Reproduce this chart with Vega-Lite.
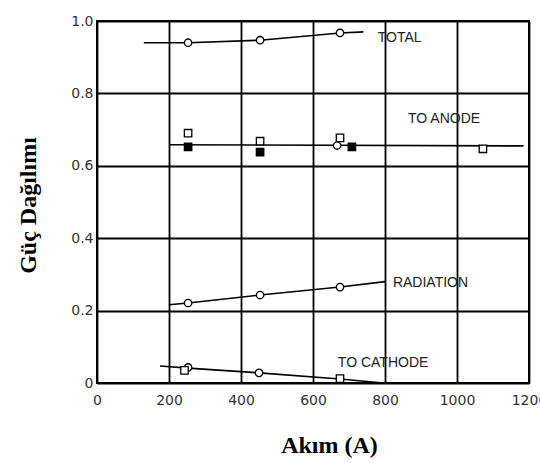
{
  "$schema": "https://vega.github.io/schema/vega-lite/v6.json",
  "width": 432,
  "height": 362,
  "autosize": "none",
  "padding": {"left": 97, "top": 21, "right": 11, "bottom": 80},
  "background": "white",
  "config": {
    "view": {"stroke": "black", "strokeWidth": 2},
    "axis": {
      "grid": true, "gridColor": "black", "gridOpacity": 1, "gridWidth": 1.8,
      "domain": false, "ticks": false,
      "labelFont": "DejaVu Sans", "labelFontSize": 14, "labelColor": "#333",
      "titleFont": "Liberation Serif", "titleFontSize": 24, "titleFontWeight": "bold", "titleColor": "black"
    }
  },
  "datasets": {
    "lines": [
      {"series": "TOTAL", "x": 130, "y": 0.94},
      {"series": "TOTAL", "x": 253, "y": 0.94},
      {"series": "TOTAL", "x": 453, "y": 0.947},
      {"series": "TOTAL", "x": 675, "y": 0.967},
      {"series": "TOTAL", "x": 740, "y": 0.97},
      {"series": "TO ANODE", "x": 200, "y": 0.658},
      {"series": "TO ANODE", "x": 1185, "y": 0.655},
      {"series": "RADIATION", "x": 200, "y": 0.216},
      {"series": "RADIATION", "x": 253, "y": 0.221},
      {"series": "RADIATION", "x": 453, "y": 0.243},
      {"series": "RADIATION", "x": 675, "y": 0.265},
      {"series": "RADIATION", "x": 800, "y": 0.28},
      {"series": "TO CATHODE", "x": 175, "y": 0.047},
      {"series": "TO CATHODE", "x": 253, "y": 0.041},
      {"series": "TO CATHODE", "x": 450, "y": 0.028},
      {"series": "TO CATHODE", "x": 675, "y": 0.011},
      {"series": "TO CATHODE", "x": 795, "y": 0.0}
    ],
    "points": [
      {"series": "TOTAL", "x": 253, "y": 0.94, "shape": "circle", "marker": "open"},
      {"series": "TOTAL", "x": 453, "y": 0.947, "shape": "circle", "marker": "open"},
      {"series": "TOTAL", "x": 675, "y": 0.967, "shape": "circle", "marker": "open"},
      {"series": "TO ANODE", "x": 253, "y": 0.69, "shape": "square", "marker": "open"},
      {"series": "TO ANODE", "x": 453, "y": 0.668, "shape": "square", "marker": "open"},
      {"series": "TO ANODE", "x": 675, "y": 0.677, "shape": "square", "marker": "open"},
      {"series": "TO ANODE", "x": 1072, "y": 0.647, "shape": "square", "marker": "open"},
      {"series": "TO ANODE", "x": 667, "y": 0.656, "shape": "circle", "marker": "open"},
      {"series": "TO ANODE", "x": 253, "y": 0.652, "shape": "square", "marker": "filled"},
      {"series": "TO ANODE", "x": 453, "y": 0.638, "shape": "square", "marker": "filled"},
      {"series": "TO ANODE", "x": 708, "y": 0.652, "shape": "square", "marker": "filled"},
      {"series": "RADIATION", "x": 253, "y": 0.221, "shape": "circle", "marker": "open"},
      {"series": "RADIATION", "x": 453, "y": 0.243, "shape": "circle", "marker": "open"},
      {"series": "RADIATION", "x": 675, "y": 0.265, "shape": "circle", "marker": "open"},
      {"series": "TO CATHODE", "x": 253, "y": 0.043, "shape": "circle", "marker": "open"},
      {"series": "TO CATHODE", "x": 243, "y": 0.035, "shape": "square", "marker": "open"},
      {"series": "TO CATHODE", "x": 450, "y": 0.028, "shape": "circle", "marker": "open"},
      {"series": "TO CATHODE", "x": 675, "y": 0.012, "shape": "square", "marker": "open"}
    ],
    "labels": [
      {"label": "TOTAL", "x": 780, "y": 0.953},
      {"label": "TO ANODE", "x": 864, "y": 0.73},
      {"label": "RADIATION", "x": 822, "y": 0.277},
      {"label": "TO CATHODE", "x": 669, "y": 0.055}
    ]
  },
  "layer": [
    {
      "data": {"name": "lines"},
      "mark": {"type": "line", "color": "black", "strokeWidth": 1.6},
      "encoding": {
        "x": {"field": "x", "type": "quantitative", "scale": {"domain": [0, 1200], "nice": false}, "axis": {"values": [0, 200, 400, 600, 800, 1000, 1200], "format": "d", "title": "Akım (A)", "titleX": 232, "titleY": 62, "titleBaseline": "middle", "labelPadding": 10, "labelFlush": false}},
        "y": {"field": "y", "type": "quantitative", "scale": {"domain": [0, 1], "nice": false}, "axis": {"values": [0, 0.2, 0.4, 0.6, 0.8, 1.0], "title": "Güç Dağılımı", "titleX": -69, "titleY": 184, "titleBaseline": "middle", "labelPadding": 4, "labelExpr": "datum.value == 0 ? '0' : format(datum.value, '.1f')"}},
        "detail": {"field": "series"}
      }
    },
    {
      "data": {"name": "points"},
      "mark": {"type": "point", "stroke": "black", "strokeWidth": 1.3, "opacity": 1, "size": 55},
      "encoding": {
        "x": {"field": "x", "type": "quantitative"},
        "y": {"field": "y", "type": "quantitative"},
        "shape": {"field": "shape", "type": "nominal", "scale": {"domain": ["circle", "square"], "range": ["circle", "square"]}, "legend": null},
        "fill": {"field": "marker", "type": "nominal", "scale": {"domain": ["open", "filled"], "range": ["white", "black"]}, "legend": null}
      }
    },
    {
      "data": {"name": "labels"},
      "mark": {"type": "text", "align": "left", "baseline": "middle", "font": "Liberation Sans", "fontSize": 14, "color": "#222"},
      "encoding": {
        "x": {"field": "x", "type": "quantitative"},
        "y": {"field": "y", "type": "quantitative"},
        "text": {"field": "label"}
      }
    }
  ]
}
